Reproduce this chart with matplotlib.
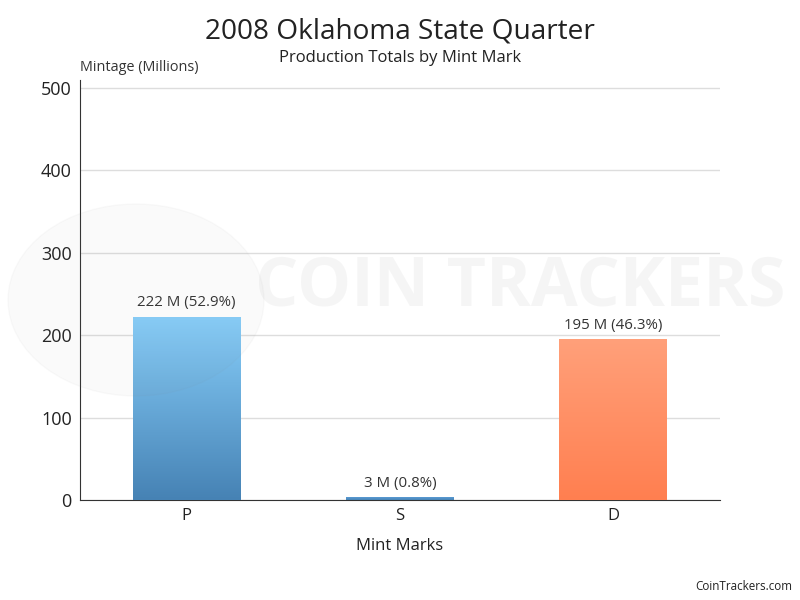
import numpy as np
import matplotlib
matplotlib.use('Agg')
import matplotlib.pyplot as plt
from matplotlib.colors import LinearSegmentedColormap

plt.rcParams['font.family'] = ['Open Sans', 'DejaVu Sans']

marks = ['P', 'S', 'D']
mintage = [222, 3, 195]
labels = ['222 M (52.9%)', '3 M (0.8%)', '195 M (46.3%)']
# gradient top -> bottom for each bar
grads = [('#87cefa', '#4682b4'), ('#5a9bd4', '#4682b4'), ('#ffa07a', '#ff7f50')]

fig = plt.figure(figsize=(8, 6), dpi=100)
ax = fig.add_axes([0.1, 0.1667, 0.8, 0.7])

# faint watermark behind the plot
fig.text(0.65, 0.52, 'COIN TRACKERS', fontsize=49, fontweight='bold',
         color='#888888', alpha=0.08, ha='center', va='center', zorder=0)
circ = plt.Circle((0.17, 0.5), 0.16, transform=fig.transFigure,
                  color='#888888', alpha=0.04, zorder=0)
fig.patches.append(circ)
ax.patch.set_alpha(0)

x = np.arange(len(marks))
bars = ax.bar(x, mintage, width=0.506, color='none', zorder=3)

for b, (top, bottom), lab in zip(bars, grads, labels):
    cmap = LinearSegmentedColormap.from_list('g', [bottom, top])
    grad = np.linspace(0, 1, 256).reshape(-1, 1)
    x0, w, h = b.get_x(), b.get_width(), b.get_height()
    ax.imshow(grad, cmap=cmap, origin='lower', aspect='auto',
              extent=(x0, x0 + w, 0, h), zorder=3)
    ax.text(x0 + w / 2, h + 8, lab, ha='center', va='bottom',
            fontsize=10.8, color='#333333', zorder=4)

ax.set_xlim(-0.5, 2.5)
ax.set_ylim(0, 509.7)
ax.set_yticks([0, 100, 200, 300, 400, 500])
ax.set_xticks(x)
ax.set_xticklabels(marks)
ax.tick_params(axis='y', length=0, labelsize=13, colors='#222222', pad=6)
ax.tick_params(axis='x', length=0, labelsize=12, colors='#222222', pad=6)
ax.yaxis.grid(True, color='#dddddd', linewidth=1, zorder=0)
ax.set_axisbelow(True)
for s in ['top', 'right']:
    ax.spines[s].set_visible(False)
ax.spines['left'].set_color('#333333')
ax.spines['bottom'].set_color('#333333')
ax.set_xlabel('Mint Marks', fontsize=12, color='#222222', labelpad=10)

fig.text(0.5, 0.948, '2008 Oklahoma State Quarter', fontsize=20.2,
         ha='center', va='center', color='#222222')
fig.text(0.5, 0.903, 'Production Totals by Mint Mark', fontsize=12,
         ha='center', va='center', color='#222222')
fig.text(0.1, 0.888, 'Mintage (Millions)', fontsize=10.4,
         ha='left', va='center', color='#333333')
fig.text(0.99, 0.022, 'CoinTrackers.com', fontsize=8.4,
         ha='right', va='center', color='#222222')

fig.savefig('out.png', dpi=100)
